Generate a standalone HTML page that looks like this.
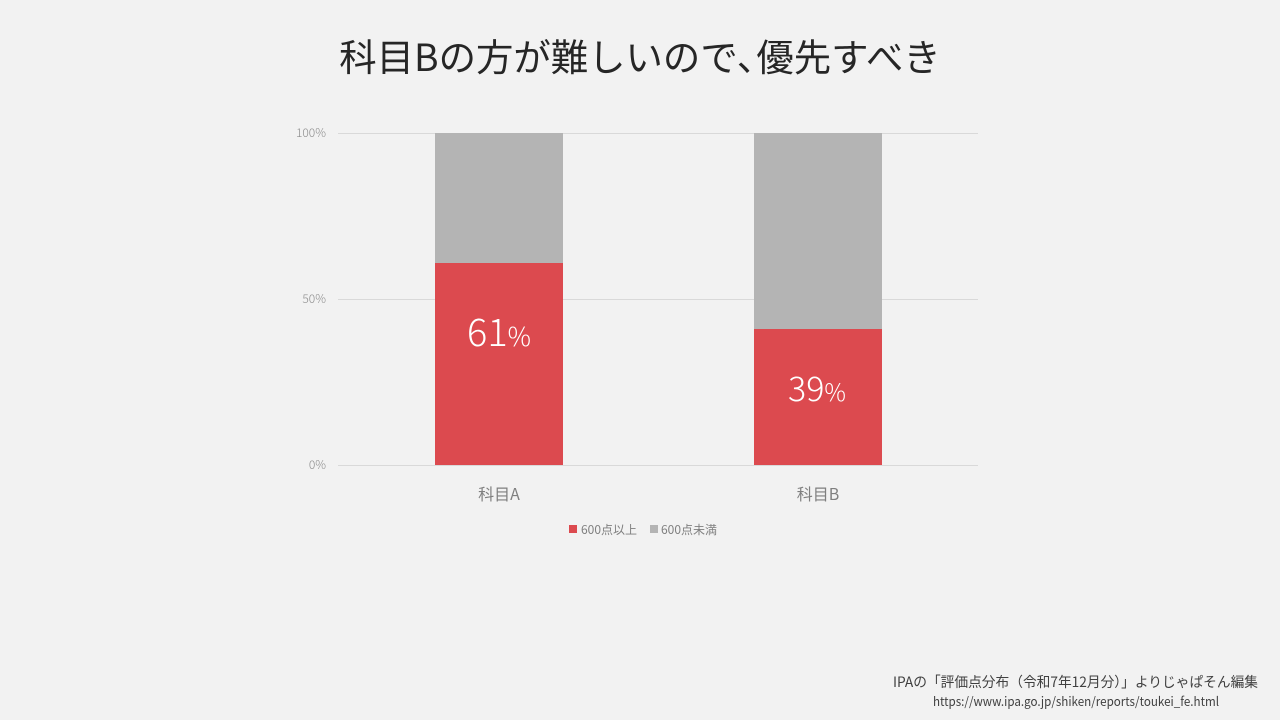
<!DOCTYPE html>
<html><head><meta charset="utf-8"><style>
body{margin:0;width:1280px;height:720px;background:#f2f2f2;overflow:hidden;font-family:"Noto Sans CJK JP",sans-serif;}
svg{position:absolute;left:0;top:0}
</style></head><body>
<svg width="1280" height="720" font-family="'Noto Sans CJK JP',sans-serif">
<text x="640" y="71" text-anchor="middle" font-size="37.4" fill="#262626">科目Bの方が難しいので､優先すべき</text>
<g stroke="#d9d9d9" stroke-width="1">
<line x1="338" y1="133.5" x2="978" y2="133.5"/>
<line x1="338" y1="299.5" x2="978" y2="299.5"/>
<line x1="338" y1="465.5" x2="978" y2="465.5"/>
</g>
<g font-size="12" fill="#8c8c8c" text-anchor="end" font-weight="300">
<text x="326" y="137">100%</text>
<text x="326" y="303">50%</text>
<text x="326" y="469">0%</text>
</g>
<rect x="435" y="133" width="128" height="130" fill="#b4b4b4"/>
<rect x="435" y="263" width="128" height="202" fill="#dc4a4f"/>
<rect x="754" y="133" width="128" height="196" fill="#b4b4b4"/>
<rect x="754" y="329" width="128" height="136" fill="#dc4a4f"/>
<text x="499" y="346" text-anchor="middle" fill="#fff" font-size="38" font-weight="300">61<tspan font-size="26">%</tspan></text>
<text x="817" y="401" text-anchor="middle" fill="#fff" font-size="34" font-weight="300">39<tspan font-size="24">%</tspan></text>
<g font-size="16" fill="#7f7f7f" text-anchor="middle">
<text x="499" y="500">科目A</text>
<text x="818" y="500">科目B</text>
</g>
<rect x="569" y="525" width="8" height="8" fill="#dc4a4f"/>
<text x="581" y="534" font-size="12" fill="#7f7f7f">600点以上</text>
<rect x="650" y="525" width="8" height="8" fill="#b4b4b4"/>
<text x="661" y="534" font-size="12" fill="#7f7f7f">600点未満</text>
<text x="893" y="687" font-size="14" fill="#404040" textLength="365" lengthAdjust="spacingAndGlyphs">IPAの「評価点分布（令和7年12月分）」よりじゃぱそん編集</text>
<text x="933" y="706" font-size="12.5" fill="#404040" textLength="286" lengthAdjust="spacingAndGlyphs">https://www.ipa.go.jp/shiken/reports/toukei_fe.html</text>
</svg>
</body></html>
